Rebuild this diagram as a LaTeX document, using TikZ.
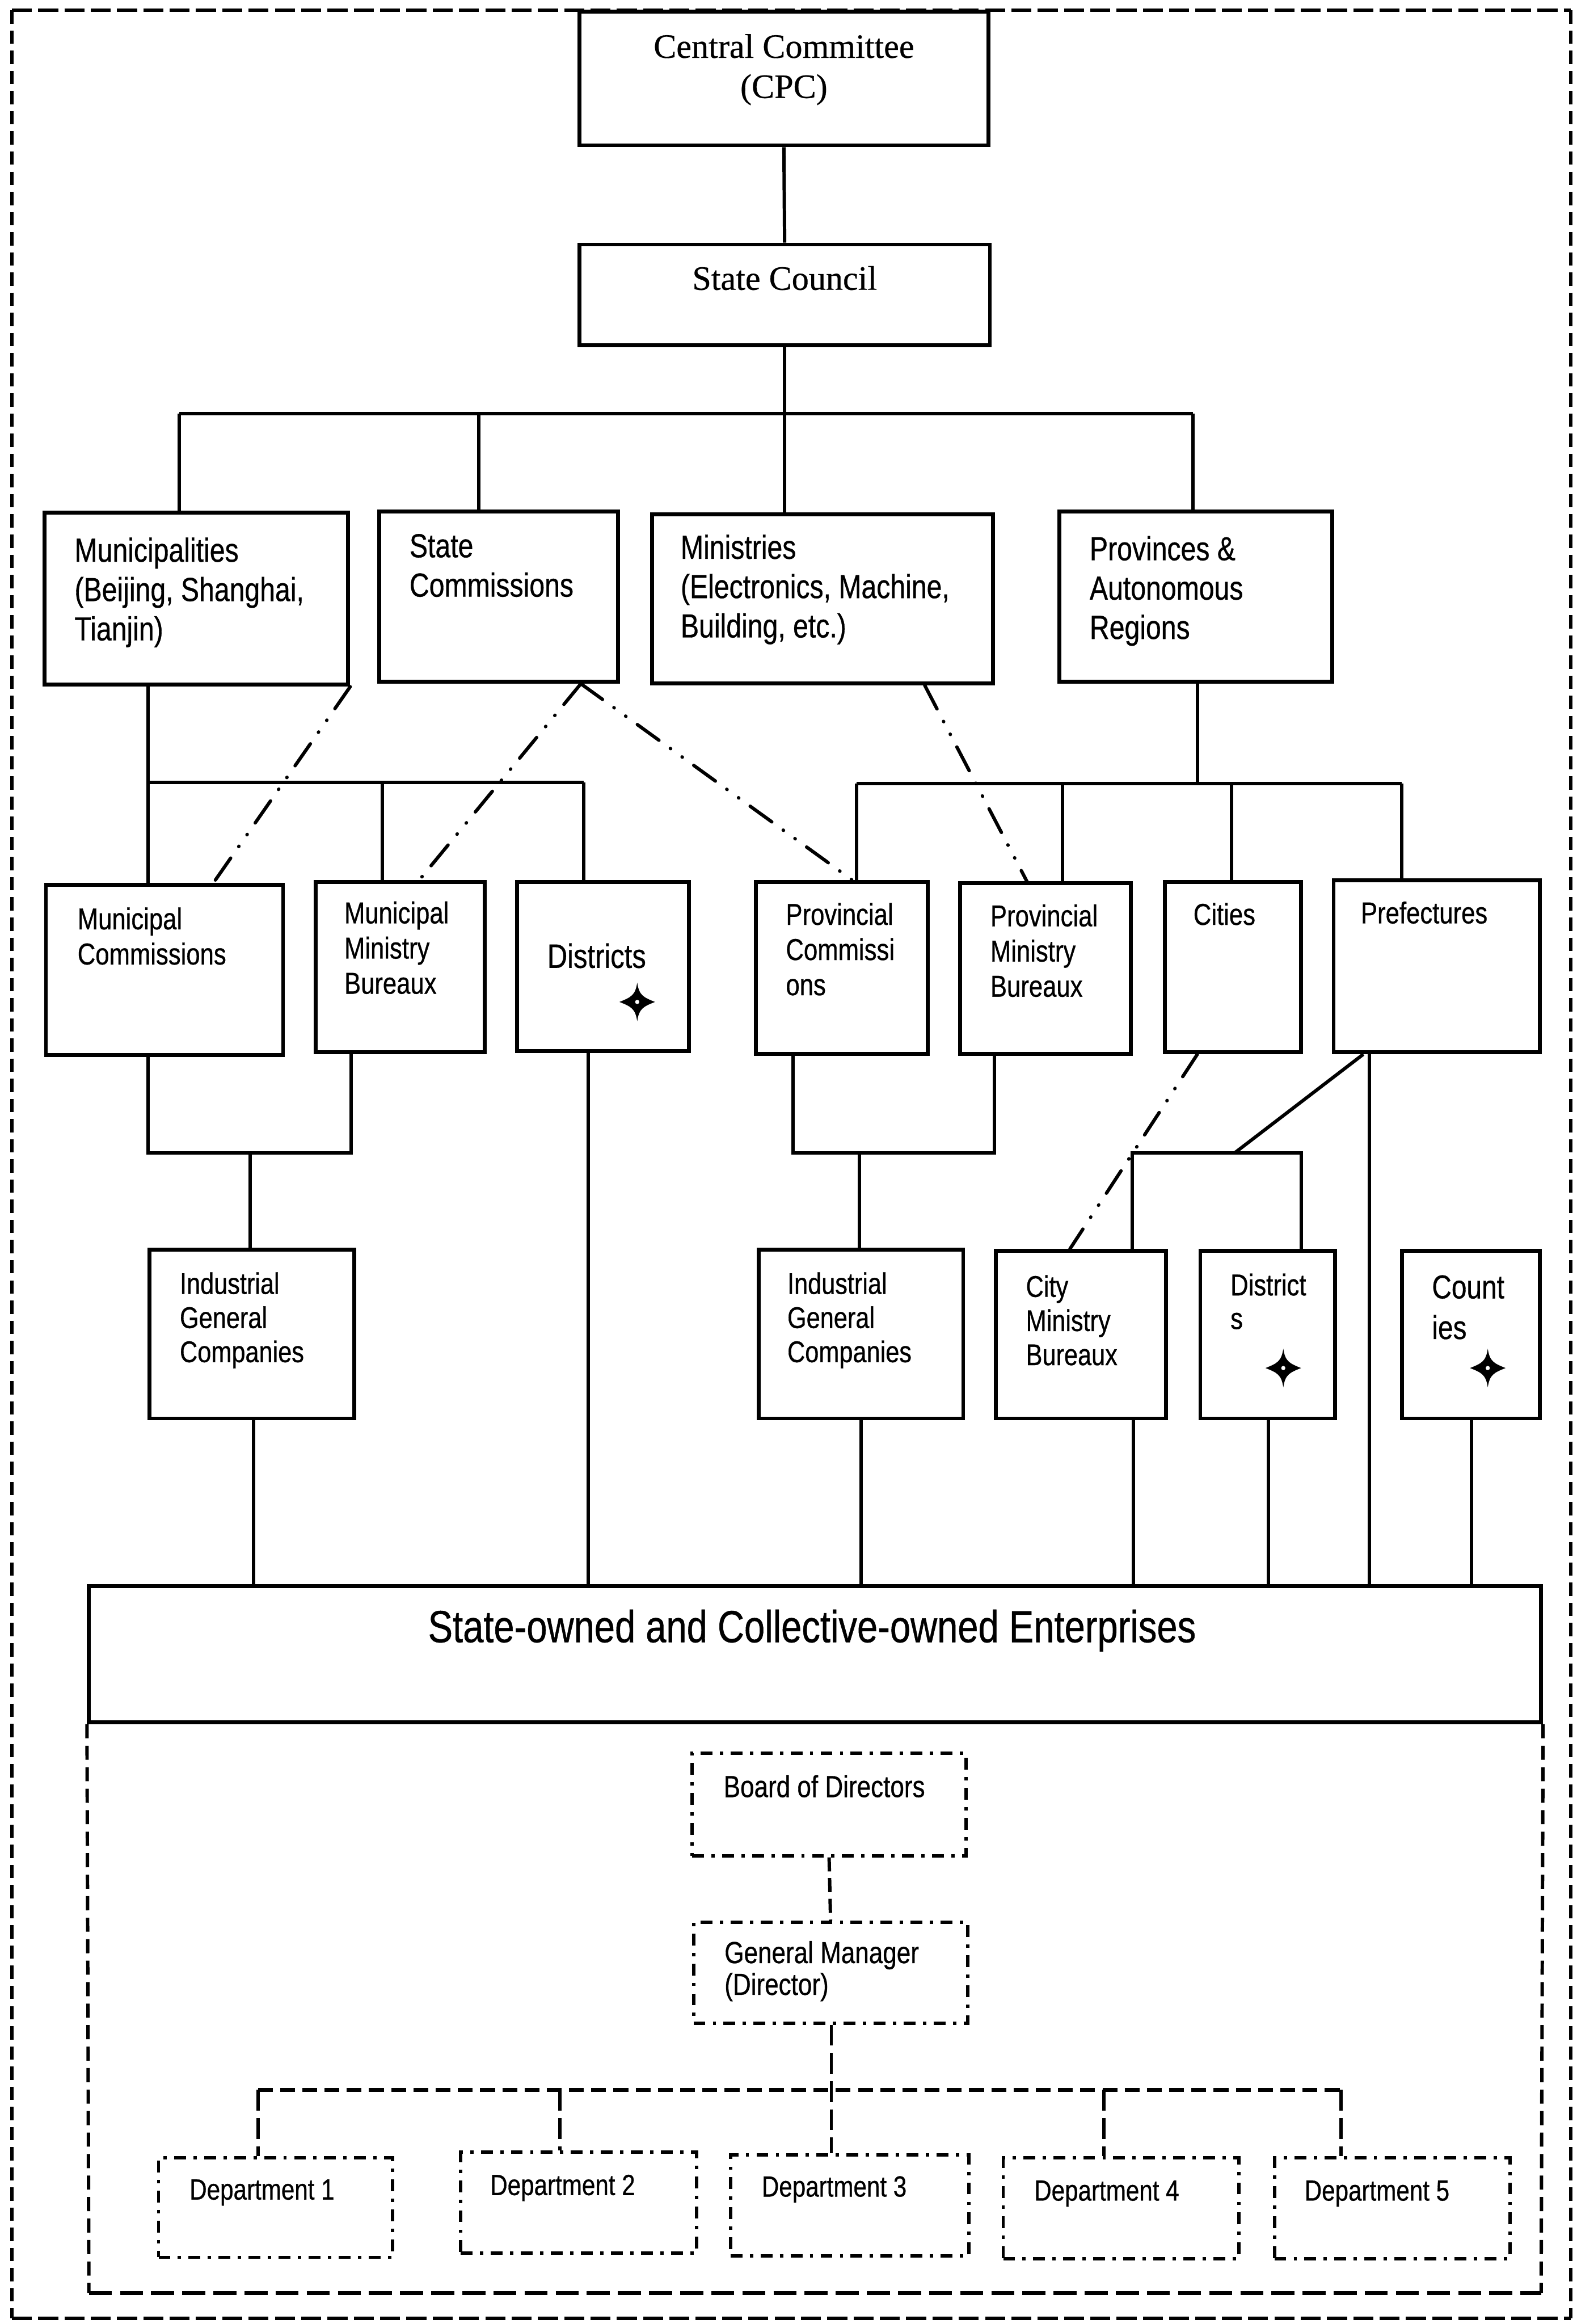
\documentclass[tikz,border=0pt]{standalone}
\usepackage{fontspec}
\setmainfont[FakeBold=0.5]{Liberation Serif}
\newfontfamily\narrowsans[FakeStretch=0.82,FakeBold=0.6]{Liberation Sans}
\usetikzlibrary{fit}

% multi-line labels whose reference point is the first baseline
\newcommand\leftlines[1]{\vtop{\halign{##\hfil\cr#1\crcr}}}
\newcommand\centerlines[1]{\vtop{\halign{\hfil##\hfil\cr#1\crcr}}}

\begin{document}
\begin{tikzpicture}[x=0.2mm,y=-0.2mm,
  solidbox/.style={draw, line width=1.5pt, inner sep=0pt},
  ddbox/.style={draw, line width=1.3pt, inner sep=0pt,
    dash pattern=on 1.6mm off 1mm on 0.45mm off 1mm},
  conn/.style={line width=1.3pt},
  linkline/.style={line width=1.3pt, line cap=round,
    dash pattern=on 3.6mm off 1.9mm on 0.05mm off 1.9mm on 0.05mm off 1.9mm},
  gmlink/.style={line width=1.3pt, dash pattern=on 1.9mm off 0.9mm},
  deptlink/.style={line width=1.3pt, dash pattern=on 2.8mm off 1mm},
  deptbar/.style={line width=1.5pt, dash pattern=on 2mm off 1mm},
  entside/.style={line width=1.3pt, dash pattern=on 1.9mm off 1mm},
  entbottom/.style={line width=1.5pt, dash pattern=on 3.1mm off 1.1mm},
  outerh/.style={line width=1.3pt, dash pattern=on 2.7mm off 0.85mm},
  outerv/.style={line width=1.2pt, dash pattern=on 1.8mm off 0.92mm},
  lbl/.style={inner sep=0pt, anchor=base west},
  clbl/.style={inner sep=0pt, anchor=base},
  serifA/.style={font=\fontsize{13.1}{15.4}\selectfont},
  fA/.style={font=\narrowsans\fontsize{12.8}{15.1}\selectfont},
  fB/.style={font=\narrowsans\fontsize{11.6}{13.5}\selectfont},
  fC/.style={font=\narrowsans\fontsize{11.5}{13.1}\selectfont},
  fDist/.style={font=\narrowsans\fontsize{13}{15}\selectfont},
  fDst/.style={font=\narrowsans\fontsize{11.6}{12.9}\selectfont},
  fCnty/.style={font=\narrowsans\fontsize{12.7}{15.6}\selectfont},
  fLow/.style={font=\narrowsans\fontsize{11.7}{12.2}\selectfont},
  fDept/.style={font=\narrowsans\fontsize{11.2}{13}\selectfont},
  fEnt/.style={font=\narrowsans\fontsize{17.3}{20}\selectfont},
  fourstar/.pic={
    \fill (0,-13) .. controls (1.3,-4.5) and (4,-3.2) .. (12,0)
      .. controls (4,3.2) and (1.3,4.5) .. (0,13)
      .. controls (-1.3,4.5) and (-4,3.2) .. (-12,0)
      .. controls (-4,-3.2) and (-1.3,-4.5) .. cycle;
    \fill[white] (0,0) circle (0.28mm);
  }
]
\fill[white] (0,0) rectangle (1064,1568);
\useasboundingbox (0,0) rectangle (1064,1568);

% outer frame
\coordinate (oTL) at (8,7);
\coordinate (oTR) at (1060,7);
\coordinate (oBR) at (1060,1564);
\coordinate (oBL) at (8,1564);
\draw[outerh] (oTL) -- (oTR);
\draw[outerh] (oBL) -- (oBR);
\draw[outerv] (oTL) -- (oBL);
\draw[outerv] (oTR) -- (oBR);

% top levels
\node[solidbox, fit={(391,8)(667,98)}] (cc) {};
\node[solidbox, fit={(391,165)(668,233)}] (sc) {};
\node[serifA, clbl] (ccT) at (529,39) {\centerlines{Central Committee\cr (CPC)}};
\node[serifA, clbl] (scT) at (529.5,195.5) {State Council};

% second level
\node[solidbox, fit={(30,346)(235,462)}] (muni) {};
\node[solidbox, fit={(256,345)(417,460)}] (scom) {};
\node[solidbox, fit={(440,347)(670,461)}] (mins) {};
\node[solidbox, fit={(715,345)(899,460)}] (prov) {};
\node[fA, lbl] (muniT) at (50,379) {\leftlines{Municipalities\cr (Beijing, Shanghai,\cr Tianjin)}};
\node[fA, lbl] (scomT) at (276,376) {\leftlines{State\cr Commissions}};
\node[fA, lbl] (minsT) at (459,377) {\leftlines{Ministries\cr (Electronics, Machine,\cr Building, etc.)}};
\node[fA, lbl] (provT) at (735,378) {\leftlines{Provinces \&\cr Autonomous\cr Regions}};

% third level
\node[solidbox, fit={(31,597)(191,712)}] (mcom) {};
\node[solidbox, fit={(213,595)(327,710)}] (mmb) {};
\node[solidbox, fit={(349,595)(465,709)}] (dist) {};
\node[solidbox, fit={(510,595)(626,711)}] (pcom) {};
\node[solidbox, fit={(648,596)(763,711)}] (pmb) {};
\node[solidbox, fit={(786,595)(878,710)}] (city) {};
\node[solidbox, fit={(900,594)(1039,710)}] (pref) {};
\node[fB, lbl] (mcomT) at (52,627) {\leftlines{Municipal\cr Commissions}};
\node[fB, lbl] (mmbT) at (232,623) {\leftlines{Municipal\cr Ministry\cr Bureaux}};
\node[fDist, lbl] (distT) at (369,653) {Districts};
\pic at (430,676) {fourstar};
\node[fB, lbl] (pcomT) at (530,624) {\leftlines{Provincial\cr Commissi\cr ons}};
\node[fB, lbl] (pmbT) at (668,625) {\leftlines{Provincial\cr Ministry\cr Bureaux}};
\node[fB, lbl] (cityT) at (805,624) {Cities};
\node[fB, lbl] (prefT) at (918,623) {Prefectures};

% fourth level
\node[solidbox, fit={(101,843)(239,957)}] (igc1) {};
\node[solidbox, fit={(512,843)(650,957)}] (igc2) {};
\node[solidbox, fit={(672,844)(787,957)}] (cmb) {};
\node[solidbox, fit={(810,844)(901,957)}] (dst2) {};
\node[solidbox, fit={(946,844)(1039,957)}] (cnty) {};
\node[fC, lbl] (igc1T) at (121,873) {\leftlines{Industrial\cr General\cr Companies}};
\node[fC, lbl] (igc2T) at (531,873) {\leftlines{Industrial\cr General\cr Companies}};
\node[fC, lbl] (cmbT) at (692,875) {\leftlines{City\cr Ministry\cr Bureaux}};
\node[fDst, lbl] (dst2T) at (830,874) {\leftlines{District\cr s}};
\pic at (866,923) {fourstar};
\node[fCnty, lbl] (cntyT) at (966,876) {\leftlines{Count\cr ies}};
\pic at (1004,923) {fourstar};

% enterprises
\node[solidbox, fit={(60,1070)(1040,1162)}] (ent) {};
\node[fEnt, clbl] (entT) at (548,1108) {State-owned and Collective-owned Enterprises};
\coordinate (eL) at (60,1547);
\coordinate (eR) at (1040,1547);
\draw[entside] (ent.south west) -- (eL);
\draw[entside] (ent.south east) -- (eR);
\draw[entbottom] (eL) -- (eR);

% enterprise management
\node[ddbox, fit={(467,1183)(652,1252)}] (board) {};
\node[ddbox, fit={(468,1297)(653,1365)}] (gm) {};
\node[fLow, lbl] (boardT) at (488,1212.5) {Board of Directors};
\node[fLow, lbl] (gmT) at (488.6,1324.5) {\leftlines{General Manager\cr (Director)}};
\node[ddbox, fit={(107,1456)(265,1523)}] (d1) {};
\node[ddbox, fit={(311,1452)(470,1520)}] (d2) {};
\node[ddbox, fit={(493,1454)(654,1522)}] (d3) {};
\node[ddbox, fit={(677,1456)(836,1524)}] (d4) {};
\node[ddbox, fit={(860,1456)(1019,1524)}] (d5) {};
\node[fDept, lbl] (d1T) at (127.6,1484) {Department 1};
\node[fDept, lbl] (d2T) at (330.5,1481) {Department 2};
\node[fDept, lbl] (d3T) at (513.7,1482) {Department 3};
\node[fDept, lbl] (d4T) at (697.6,1484.7) {Department 4};
\node[fDept, lbl] (d5T) at (880,1484.7) {Department 5};

% connectors: top to second level
\draw[conn] (cc.south) -- (sc.north);
\coordinate (j0) at (529.5,279);
\coordinate (jA) at (121,279);
\coordinate (jB) at (323,279);
\coordinate (jD) at (805,279);
\draw[conn] (sc.south) -- (j0);
\draw[conn] (jA) -- (jD);
\draw[conn] (jA) -- (jA |- muni.north);
\draw[conn] (jB) -- (jB |- scom.north);
\draw[conn] (j0) -- (j0 |- mins.north);
\draw[conn] (jD) -- (jD |- prov.north);

% second to third level
\coordinate (kA) at (100,528);
\coordinate (kB) at (258,528);
\coordinate (kC) at (394,528);
\draw[conn] (kA |- muni.south) -- (kA |- mcom.north);
\draw[conn] (kA) -- (kC);
\draw[conn] (kB) -- (kB |- mmb.north);
\draw[conn] (kC) -- (kC |- dist.north);
\coordinate (kP) at (808,528.5);
\coordinate (kE) at (578,528.5);
\coordinate (kF) at (717,528.5);
\coordinate (kG) at (831,528.5);
\coordinate (kH) at (946,528.5);
\draw[conn] (kP |- prov.south) -- (kP);
\draw[conn] (kE) -- (kH);
\draw[conn] (kE) -- (kE |- pcom.north);
\draw[conn] (kF) -- (kF |- pmb.north);
\draw[conn] (kG) -- (kG |- city.north);
\draw[conn] (kH) -- (kH |- pref.north);

% third to fourth level
\coordinate (lA) at (100,778);
\coordinate (lB) at (237,778);
\coordinate (lC) at (169,778);
\draw[conn] (lA |- mcom.south) -- (lA) -- (lB) -- (lB |- mmb.south);
\draw[conn] (lC) -- (lC |- igc1.north);
\coordinate (lD) at (535,778);
\coordinate (lE) at (671,778);
\coordinate (lF) at (580,778);
\draw[conn] (lD |- pcom.south) -- (lD) -- (lE) -- (lE |- pmb.south);
\draw[conn] (lF) -- (lF |- igc2.north);
\coordinate (lG) at (764,778);
\coordinate (lH) at (878,778);
\coordinate (lJ) at (833,778);
\coordinate (lK) at (920,778);
\draw[conn] (lK |- pref.south) -- (lJ);
\draw[conn] (lG |- cmb.north) -- (lG) -- (lH) -- (lH |- dst2.north);

% lines down to the enterprises
\foreach \n/\xx in {igc1/171, dist/397, igc2/581, cmb/765, dst2/856, pref/924, cnty/993}{
  \coordinate (v\n) at (\xx,0);
  \draw[conn] (v\n |- \n.south) -- (v\n |- ent.north);
}

% guidance links
\coordinate (aA) at (144,0);
\coordinate (aB) at (392,0);
\coordinate (aC) at (283,0);
\coordinate (aD) at (575,0);
\coordinate (aE) at (624,0);
\coordinate (aF) at (693,0);
\coordinate (aG) at (808,0);
\coordinate (aH) at (722,0);
\draw[linkline] (muni.south east) -- (aA |- mcom.north);
\draw[linkline] (aB |- scom.south) -- (aC |- mmb.north);
\draw[linkline] (aB |- scom.south) -- (aD |- pcom.north);
\draw[linkline] (aE |- mins.south) -- (aF |- pmb.north);
\draw[linkline] (aG |- city.south) -- (aH |- cmb.north);

% internal structure
\draw[gmlink] (board.south) -- (gm.north);
\coordinate (uA) at (174,1410);
\coordinate (uB) at (378,1410);
\coordinate (uC) at (561,1410);
\coordinate (uD) at (745,1410);
\coordinate (uE) at (905,1410);
\draw[deptlink] (uC |- gm.south) -- (uC |- d3.north);
\draw[deptbar] (uA) -- (uE);
\draw[deptlink] (uA) -- (uA |- d1.north);
\draw[deptlink] (uB) -- (uB |- d2.north);
\draw[deptlink] (uD) -- (uD |- d4.north);
\draw[deptlink] (uE) -- (uE |- d5.north);
\end{tikzpicture}
\end{document}
